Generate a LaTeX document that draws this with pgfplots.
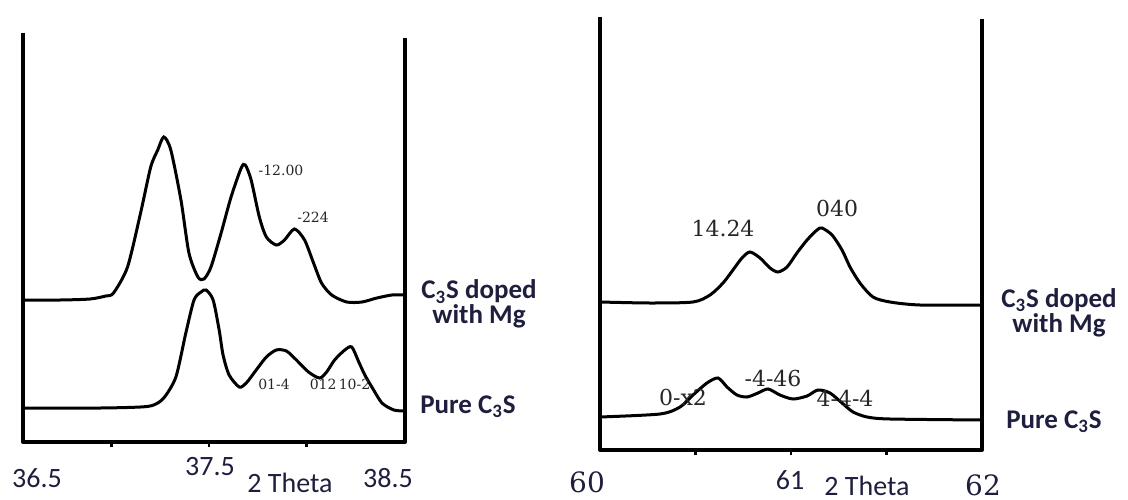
\documentclass[border=0pt]{standalone}
\usepackage{pgfplots}
\pgfplotsset{compat=1.18}
\usepackage{fontspec}
\setmainfont{Carlito}
\newfontfamily\serifnum{DejaVu Serif}
\definecolor{lab}{RGB}{30,30,62}
\newcommand{\ticklab}{\fontsize{14}{16}\selectfont\color{lab}}
\begin{document}
\begin{tikzpicture}
\path[use as bounding box] (0,0) rectangle (564pt,249.5pt);
% ---------- left panel ----------
\begin{axis}[at={(11.5pt,28.5pt)}, anchor=south west, scale only axis,
  width=191pt, height=204.5pt,
  xmin=36.546, xmax=38.505, ymin=0, ymax=409,
  axis line style={draw=none}, ytick=\empty,
  xtick={37,37.5,38}, xticklabels={}, tick pos=left, tick align=outside,
  major tick length=2.5pt, xtick style={line width=1.4pt, black},
  clip=false]
\draw[line width=2pt, line join=round] (rel axis cs:0,1) -- (rel axis cs:0,0) -- (rel axis cs:1,0) -- (rel axis cs:1,0.988);
\addplot[black, line width=1.5pt, smooth, tension=0.45] coordinates {
(36.546,142) (36.737,142) (36.890,143) (36.970,146) (37.010,149) (37.082,175)
(37.149,229) (37.201,275) (37.237,292) (37.268,305) (37.304,292) (37.356,242)
(37.397,189) (37.443,165) (37.474,163) (37.510,175) (37.562,209) (37.613,245)
(37.665,274) (37.686,277) (37.716,262) (37.758,225) (37.794,205) (37.845,197)
(37.887,202) (37.938,213) (37.990,202) (38.036,179) (38.077,159) (38.129,147)
(38.206,140) (38.284,140) (38.361,144) (38.438,147) (38.505,147)};
\addplot[black, line width=1.5pt, smooth, tension=0.45] coordinates {
(36.546,34) (36.943,34) (37.149,35) (37.216,37) (37.268,44) (37.330,65)
(37.381,109) (37.423,142) (37.459,150) (37.485,152) (37.521,142) (37.552,112)
(37.572,87) (37.603,67) (37.655,55) (37.691,59) (37.742,72) (37.794,85)
(37.845,92) (37.897,91) (37.948,82) (38.010,70) (38.067,64) (38.103,70)
(38.144,82) (38.196,92) (38.232,95) (38.268,80) (38.299,67) (38.335,55)
(38.387,39) (38.448,32) (38.505,31)};
\end{axis}
% ---------- right panel ----------
\begin{axis}[at={(300pt,24.5pt)}, anchor=south west, scale only axis,
  width=191pt, height=216.5pt,
  xmin=60, xmax=62, ymin=0, ymax=433,
  axis line style={draw=none}, ytick=\empty,
  xtick={60.5,61,61.5}, xticklabels={}, tick pos=left, tick align=outside,
  major tick length=2.5pt, xtick style={line width=1.4pt, black},
  clip=false]
\draw[line width=2pt, line join=round] (rel axis cs:0,1) -- (rel axis cs:0,0) -- (rel axis cs:1,0) -- (rel axis cs:1,0.995);
\addplot[black, line width=1.5pt, smooth, tension=0.45] coordinates {
(60.000,148) (60.262,147) (60.487,148) (60.576,155) (60.644,167) (60.696,180)
(60.743,192) (60.785,198) (60.838,192) (60.890,182) (60.932,178) (60.979,183)
(61.031,197) (61.084,210) (61.136,220) (61.162,222) (61.215,215) (61.267,200)
(61.309,183) (61.361,167) (61.429,153) (61.518,148) (61.675,145) (62.000,145)};
\addplot[black, line width=1.5pt, smooth, tension=0.45] coordinates {
(60.000,33) (60.314,36) (60.419,43) (60.487,55) (60.560,67) (60.618,72)
(60.665,63) (60.717,55) (60.770,53) (60.827,57) (60.880,61) (60.942,55)
(61.010,51) (61.084,54) (61.141,60) (61.204,57) (61.267,47) (61.325,38)
(61.398,33) (61.518,31) (62.000,30)};
\end{axis}
% ---------- tick labels ----------
\node[font=\ticklab] at (18.5pt,10.5pt) {36.5};
\node[font=\ticklab] at (105pt,16pt) {37.5};
\node[font=\ticklab] at (145pt,8pt) {2 Theta};
\node[font=\ticklab] at (194pt,10.5pt) {38.5};
\node[font=\fontsize{14}{16}\serifnum\color{lab}] at (293.5pt,8.5pt) {60};
\node[font=\ticklab] at (395pt,9.5pt) {61};
\node[font=\ticklab, inner sep=0pt] at (433.5pt,6.5pt) {2 Theta};
\node[font=\fontsize{14}{16}\serifnum\color{lab}, inner sep=0pt] at (491.5pt,7pt) {62};
% ---------- side labels ----------
\node[inner sep=0pt, align=center, text=lab, font=\fontsize{13.5}{12.5}\selectfont\bfseries] at (239.5pt,97.5pt) {C\textsubscript{3}S doped\\with Mg};
\node[inner sep=0pt, text=lab, font=\fontsize{13.5}{15}\selectfont\bfseries] at (234pt,46pt) {Pure C\textsubscript{3}S};
\node[inner sep=0pt, align=center, text=lab, font=\fontsize{13.5}{11.5}\selectfont\bfseries] at (529.5pt,93pt) {C\textsubscript{3}S doped\\with Mg};
\node[inner sep=0pt, text=lab, font=\fontsize{13.5}{15}\selectfont\bfseries] at (527pt,38.5pt) {Pure C\textsubscript{3}S};
% ---------- peak annotations ----------
\begin{scope}[every node/.style={font=\fontsize{7}{8}\serifnum, text=black!85, inner sep=0pt}]
\node at (140.5pt,164.5pt) {-12.00};
\node at (156.5pt,141pt) {-224};
\node at (137pt,57.5pt) {01-4};
\node at (170pt,57.5pt) {012\,10-2};
\end{scope}
\begin{scope}[every node/.style={font=\fontsize{11}{12}\serifnum, text=black!85, inner sep=0pt}]
\node at (361.5pt,135.5pt) {14.24};
\node at (418.5pt,145.5pt) {040};
\node at (341.5pt,51pt) {0-x2};
\node at (386.5pt,60.5pt) {-4-46};
\node at (422.5pt,50.5pt) {4-4-4};
\end{scope}
\end{tikzpicture}
\end{document}
